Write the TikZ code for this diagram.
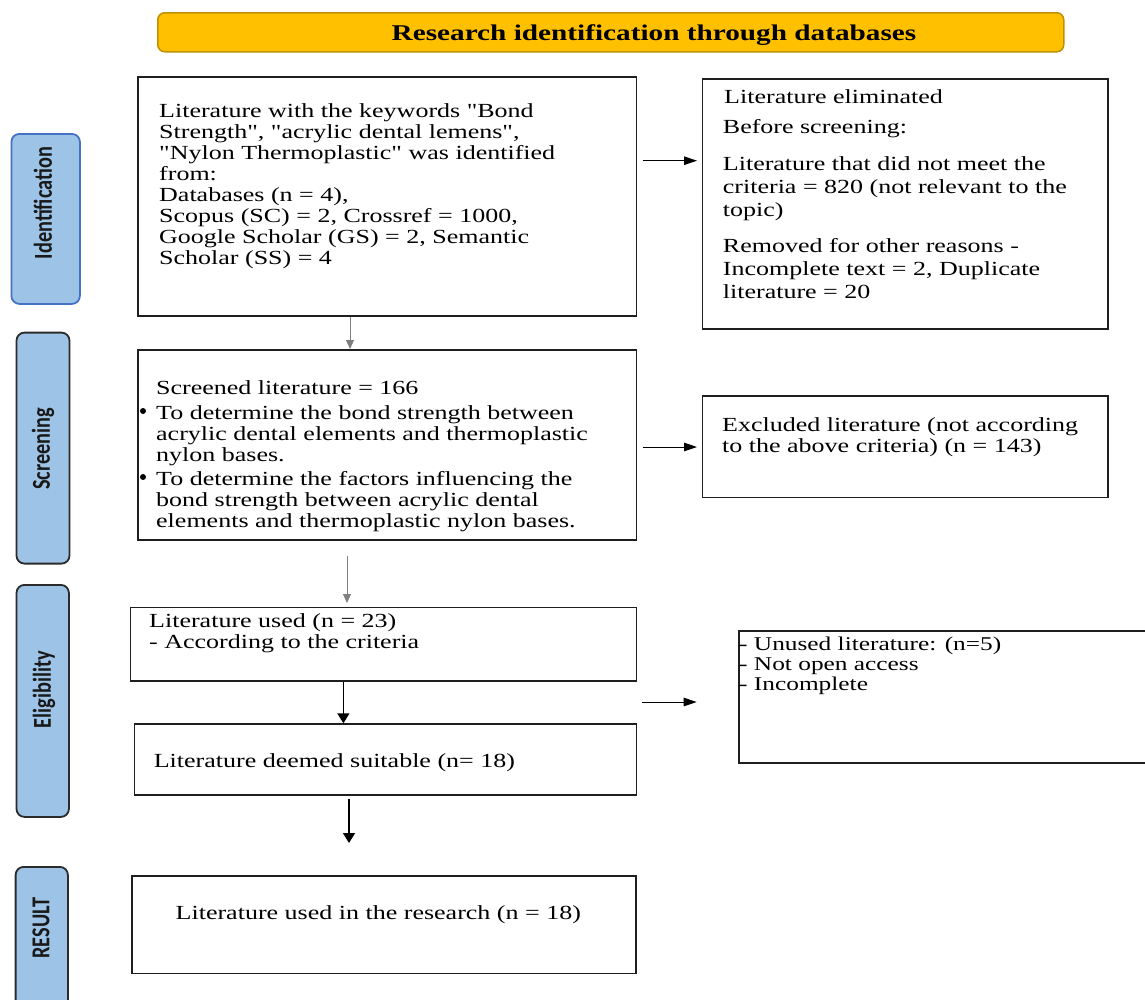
\documentclass[tikz,border=0pt]{standalone}
\usepackage{fontspec}
\usepackage{graphicx}
\setmainfont{Liberation Serif}[FakeStretch=1.3, Ligatures=TeXOff]
\newfontfamily\lblfont{Carlito}
\usetikzlibrary{arrows.meta}
\definecolor{bannerfill}{HTML}{FFC000}
\definecolor{bannerdraw}{HTML}{BF9000}
\definecolor{lblfill}{HTML}{9DC3E6}
\definecolor{lblblue}{HTML}{4472C4}
\definecolor{lbldark}{HTML}{2B2B2B}
\newcommand{\bodyfnt}{\fontsize{20}{21}\selectfont}
\newcommand{\widefnt}{\fontsize{20}{23}\selectfont}
\newcommand{\smallfnt}{\fontsize{19.5}{20}\selectfont}
\begin{document}
\begin{tikzpicture}[x=1pt,y=-1pt,
 box/.style={draw=black!88, line width=1.6pt, inner sep=0pt, anchor=north west},
 txt/.style={anchor=north west, inner sep=0pt, align=left, font=\bodyfnt},
 lbl/.style={draw=lbldark, fill=lblfill, line width=1.8pt, rounded corners=8pt, inner sep=0pt, anchor=north west},
 lbltxt/.style={rotate=90, inner sep=0pt, font=\lblfont\bfseries\fontsize{20.3}{22}\selectfont, text=black!90},
 grayarrow/.style={draw=black!50, line width=0.9pt, -{Triangle[length=9pt,width=8pt]}},
 blkarrow/.style={draw=black, line width=1.5pt, -{Triangle[length=10pt,width=12pt]}},
 sidearrow/.style={draw=black, line width=1pt, -{Triangle[length=13pt,width=8.5pt]}},
 bullet/.style={circle, fill=black, inner sep=0pt, minimum size=6pt}
]
\useasboundingbox (0,0) rectangle (1145,999);
\fill[white] (0,0) rectangle (1145,999);
\clip (0,0) rectangle (1145,999);

% banner
\node[draw=bannerdraw, fill=bannerfill, line width=1.5pt, rounded corners=7pt, inner sep=0pt,
      anchor=north west, minimum width=906pt, minimum height=39pt] (banner) at (157,12) {};
\node[anchor=base, inner sep=0pt, font=\fontsize{22.5}{25}\selectfont\bfseries] (bannertxt) at (654,40.7)
  {Research identification through databases};

% stage labels
\node[lbl, draw=lblblue, minimum width=68.5pt, minimum height=170pt] (lid) at (10.5,133) {};
\node[lbltxt] (lidt) at (43,203) {\scalebox{1}[1.27]{Identification}};
\node[lbl, minimum width=53pt, minimum height=231pt] (lsc) at (15.6,331.7) {};
\node[lbltxt] (lsct) at (43,449) {\scalebox{1}[1.27]{Screening}};
\node[lbl, minimum width=52.4pt, minimum height=232pt] (lel) at (15.6,584) {};
\node[lbltxt] (lelt) at (44,689.5) {\scalebox{1}[1.27]{Eligibility}};
\node[lbl, minimum width=52.3pt, minimum height=160pt] (lre) at (14.7,866) {};
\node[lbltxt] (lret) at (41,928) {\scalebox{1}[1.27]{RESULT}};

% main column boxes
\node[box, minimum width=498.5pt, minimum height=239pt] (b1) at (137,76) {};
\node[txt] (b1t) at (159,103) {\strut Literature with the keywords "Bond\\
Strength", "acrylic dental lemens",\\
"Nylon Thermoplastic" was identified\\
from:\\
Databases (n = 4),\\
Scopus (SC) = 2, Crossref = 1000,\\
Google Scholar (GS) = 2, Semantic\\
Scholar (SS) = 4};

\node[box, minimum width=498.5pt, minimum height=190pt] (b2) at (137,349) {};
\node[txt] (b2t) at (156,379.3) {\strut Screened literature = 166};
\node[txt] (b2a) at (156,404.8) {\strut To determine the bond strength between\\
acrylic dental elements and thermoplastic\\
nylon bases.};
\node[txt] (b2b) at (156,470.8) {\strut To determine the factors influencing the\\
bond strength between acrylic dental\\
elements and thermoplastic nylon bases.};
\node[bullet] (bu1) at (143,411) {};
\node[bullet] (bu2) at (143,477) {};

\node[box, minimum width=506pt, minimum height=73.3pt] (b3) at (129.6,606.7) {};
\node[txt] (b3t) at (149,612.8) {\strut Literature used (n = 23)\\
- According to the criteria};

\node[box, minimum width=501.7pt, minimum height=71pt] (b4) at (133.8,723.3) {};
\node[txt] (b4t) at (153.6,752.1) {\strut Literature deemed suitable (n= 18)};

\node[box, minimum width=503.7pt, minimum height=97.7pt] (b5) at (131.3,875) {};
\node[txt] (b5t) at (175.5,904.8) {\strut Literature used in the research (n = 18)};

% right column boxes
\node[box, minimum width=405.3pt, minimum height=250pt] (r1) at (701.7,78) {};
\node[txt] (r1a) at (724,88.8) {\strut Literature eliminated};
\node[txt] (r1b) at (722.7,118.8) {\strut Before screening:};
\node[txt, font=\widefnt] (r1c) at (722.7,154.3) {\strut Literature that did not meet the\\
criteria = 820 (not relevant to the\\
topic)};
\node[txt, font=\widefnt] (r1d) at (722.7,236.3) {\strut Removed for other reasons -\\
Incomplete text = 2, Duplicate\\
literature = 20};

\node[box, minimum width=405.3pt, minimum height=101.7pt] (r2) at (701.7,395) {};
\node[txt, font=\fontsize{20}{21.4}\selectfont] (r2t) at (722,416.3) {\strut Excluded literature (not according\\
to the above criteria) (n = 143)};

\node[box, minimum width=420pt, minimum height=132.3pt] (r3) at (738.3,630) {};
\node[txt, font=\smallfnt] (r3t) at (739,636) {\strut - Unused literature: (n=5)\\
- Not open access\\
- Incomplete};

% connectors
\coordinate (a1x) at (350,0);
\coordinate (a2s) at (347,556);
\coordinate (a3x) at (343.4,0);
\coordinate (a4s) at (349,799);
\coordinate (a4e) at (349,843);
\coordinate (s1) at (642.7,160.7);
\coordinate (s2) at (642.7,447);
\coordinate (s3) at (641.7,702);

\draw[grayarrow] (b1.south -| a1x) -- (b2.north -| a1x);
\draw[grayarrow, shorten >=3.7pt] (a2s) -- (b3.north -| a2s);
\draw[blkarrow] (b3.south -| a3x) -- (b4.north -| a3x);
\draw[blkarrow] (a4s) -- (a4e);
\draw[sidearrow, shorten >=4.7pt] (s1) -- (r1.west |- s1);
\draw[sidearrow, shorten >=4.7pt] (s2) -- (r2.west |- s2);
\draw[sidearrow, shorten >=41.6pt] (s3) -- (r3.west |- s3);
\end{tikzpicture}
\end{document}
